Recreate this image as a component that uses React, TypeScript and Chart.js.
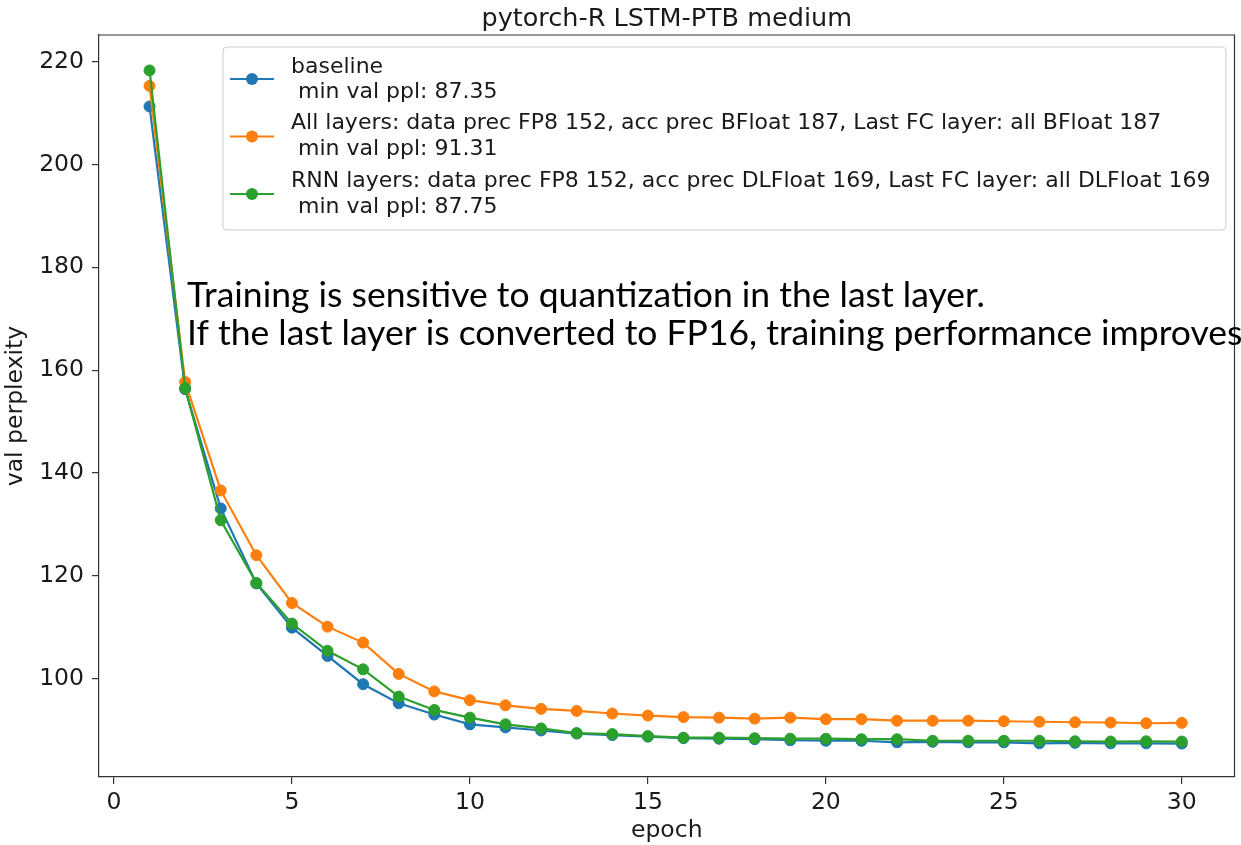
import React, { useEffect, useRef } from "react";
import { Chart, registerables } from "chart.js";

Chart.register(...registerables);

const epochs = [1, 2, 3, 4, 5, 6, 7, 8, 9, 10, 11, 12, 13, 14, 15, 16, 17, 18, 19, 20, 21, 22, 23, 24, 25, 26, 27, 28, 29, 30];
const baseline = [211.3, 156.3, 133.1, 118.5, 109.9, 104.4, 98.9, 95.2, 93.0, 91.1, 90.5, 89.9, 89.3, 89.0, 88.7, 88.4, 88.3, 88.2, 88.0, 87.9, 87.9, 87.6, 87.7, 87.6, 87.6, 87.4, 87.5, 87.4, 87.4, 87.35];
const allLayers = [215.3, 157.7, 136.6, 124.0, 114.7, 110.1, 107.0, 100.9, 97.5, 95.8, 94.8, 94.1, 93.7, 93.2, 92.8, 92.5, 92.4, 92.2, 92.4, 92.1, 92.1, 91.8, 91.8, 91.8, 91.7, 91.6, 91.5, 91.45, 91.31, 91.38];
const rnnLayers = [218.3, 156.5, 130.8, 118.6, 110.7, 105.4, 101.8, 96.5, 93.9, 92.4, 91.1, 90.3, 89.4, 89.2, 88.8, 88.5, 88.5, 88.4, 88.3, 88.3, 88.2, 88.2, 87.9, 87.9, 87.9, 87.9, 87.8, 87.75, 87.8, 87.75];

const xTicks = [0, 5, 10, 15, 20, 25, 30];
const yTicks = [100, 120, 140, 160, 180, 200, 220];

const seriesLabels = [
  ["baseline", " min val ppl: 87.35"],
  ["All layers: data prec FP8 152, acc prec BFloat 187, Last FC layer: all BFloat 187", " min val ppl: 91.31"],
  ["RNN layers: data prec FP8 152, acc prec DLFloat 169, Last FC layer: all DLFloat 169", " min val ppl: 87.75"],
];
const seriesColors = ["#1f77b4", "#ff7f0e", "#2ca02c"];

const chartTitle = "pytorch-R LSTM-PTB medium";
const xTitle = "epoch";
const yTitle = "val perplexity";
const noteLines = [
  "Training is sensitive to quantization in the last layer.",
  "If the last layer is converted to FP16, training performance improves",
];

const MPL_FONT = '"DejaVu Sans", sans-serif';

const overlayPlugin = {
  id: "overlay",
  afterDraw(chart: any) {
    const ctx: CanvasRenderingContext2D = chart.ctx;
    const a = chart.chartArea;
    ctx.save();

    // top & right spines
    ctx.strokeStyle = "#333333";
    ctx.lineWidth = 1.2;
    ctx.beginPath();
    ctx.moveTo(a.left, a.top);
    ctx.lineTo(a.right, a.top);
    ctx.lineTo(a.right, a.bottom);
    ctx.stroke();

    // title
    ctx.fillStyle = "#1a1a1a";
    ctx.font = `25.5px ${MPL_FONT}`;
    ctx.textAlign = "center";
    ctx.textBaseline = "alphabetic";
    ctx.fillText(chartTitle, (a.left + a.right) / 2, 26);

    // legend box
    const bx = 223, by = 47, bw = 1003, bh = 183;
    ctx.beginPath();
    (ctx as any).roundRect(bx, by, bw, bh, 4);
    ctx.fillStyle = "rgba(255,255,255,0.8)";
    ctx.fill();
    ctx.strokeStyle = "#cccccc";
    ctx.lineWidth = 1;
    ctx.stroke();

    const lineYs = [[67, 92], [123, 149], [181, 207]];
    const handleYs = [79, 136.5, 194];
    chart.data.datasets.forEach((ds: any, i: number) => {
      const hy = handleYs[i];
      ctx.strokeStyle = seriesColors[i];
      ctx.lineWidth = 2.2;
      ctx.beginPath();
      ctx.moveTo(230, hy);
      ctx.lineTo(274, hy);
      ctx.stroke();
      ctx.fillStyle = seriesColors[i];
      ctx.beginPath();
      ctx.arc(252, hy, 6, 0, Math.PI * 2);
      ctx.fill();
      ctx.fillStyle = "#1a1a1a";
      ctx.font = `22px ${MPL_FONT}`;
      ctx.textAlign = "left";
      ctx.textBaseline = "middle";
      seriesLabels[i].forEach((t, j) => ctx.fillText(t, 291, lineYs[i][j]));
    });

    // annotation text
    ctx.fillStyle = "#000000";
    ctx.font = '35.5px Lato, "Open Sans", sans-serif';
    ctx.textAlign = "left";
    ctx.textBaseline = "alphabetic";
    ctx.fillText(noteLines[0], 187, 307);
    ctx.fillText(noteLines[1], 187, 345);

    ctx.restore();
  },
};

export default function App() {
  const ref = useRef<HTMLCanvasElement | null>(null);

  useEffect(() => {
    if (!ref.current) return;
    const makeDs = (label: string, values: number[], color: string, order: number) => ({
      label,
      data: epochs.map((e, i) => ({ x: e, y: values[i] })),
      borderColor: color,
      backgroundColor: color,
      pointBackgroundColor: color,
      pointBorderColor: color,
      borderWidth: 2.2,
      pointRadius: 5.5,
      pointBorderWidth: 1,
      tension: 0,
      order,
    });
    const chart = new Chart(ref.current, {
      type: "line",
      data: {
        datasets: [
          makeDs(seriesLabels[0].join("\n"), baseline, seriesColors[0], 3),
          makeDs(seriesLabels[1].join("\n"), allLayers, seriesColors[1], 2),
          makeDs(seriesLabels[2].join("\n"), rnnLayers, seriesColors[2], 1),
        ],
      },
      options: {
        animation: false,
        responsive: false,
        events: [],
        layout: { padding: { top: 35, right: 3, left: 0, bottom: 0 } },
        plugins: { legend: { display: false }, tooltip: { enabled: false }, title: { display: false } },
        scales: {
          x: {
            type: "linear",
            min: -0.42,
            max: 31.48,
            afterBuildTicks: (s: any) => {
              s.ticks = xTicks.map((v) => ({ value: v }));
            },
            afterFit: (s: any) => {
              s.height = 68;
            },
            ticks: {
              color: "#1a1a1a",
              font: { family: MPL_FONT, size: 23.5 },
              padding: 5,
              maxRotation: 0,
              autoSkip: false,
            },
            grid: { drawOnChartArea: false, drawTicks: true, tickLength: 7, color: "#333333", lineWidth: 1.2 },
            border: { display: true, color: "#333333", width: 1.2 },
            title: {
              display: true,
              text: xTitle,
              color: "#1a1a1a",
              font: { family: MPL_FONT, size: 23.5 },
              padding: { top: 0, bottom: 0 },
            },
          },
          y: {
            type: "linear",
            min: 80.85,
            max: 225.2,
            afterBuildTicks: (s: any) => {
              s.ticks = yTicks.map((v) => ({ value: v }));
            },
            afterFit: (s: any) => {
              s.width = 99;
            },
            ticks: {
              color: "#1a1a1a",
              font: { family: MPL_FONT, size: 23.5 },
              padding: 8,
              autoSkip: false,
            },
            grid: { drawOnChartArea: false, drawTicks: true, tickLength: 7, color: "#333333", lineWidth: 1.2 },
            border: { display: true, color: "#333333", width: 1.2 },
            title: {
              display: true,
              text: yTitle,
              color: "#1a1a1a",
              font: { family: MPL_FONT, size: 23.5 },
              padding: { top: 2, bottom: 0 },
            },
          },
        },
      },
      plugins: [overlayPlugin],
    } as any);
    return () => chart.destroy();
  }, []);

  return (
    <div style={{ position: "fixed", left: 0, top: 0, width: 1241, height: 845, overflow: "hidden", background: "#fff" }}>
      <canvas ref={ref} width={1241} height={845} style={{ width: 1241, height: 845, display: "block" }} />
    </div>
  );
}
